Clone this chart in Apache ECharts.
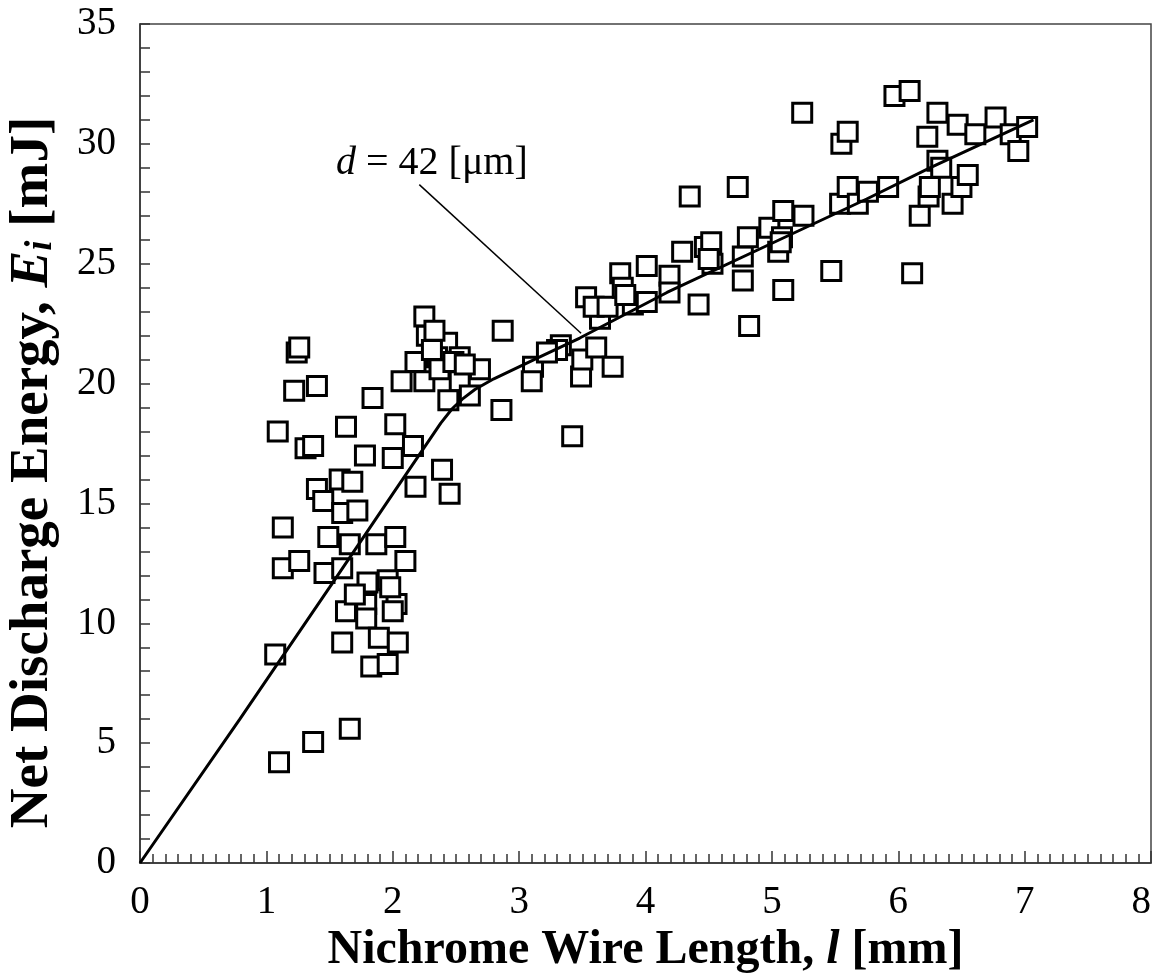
<!DOCTYPE html>
<html>
<head>
<meta charset="utf-8">
<script src="https://cdn.jsdelivr.net/npm/echarts@6/dist/echarts.min.js"></script>
<style>
  html, body { margin: 0; padding: 0; background: #fff; }
  #main { width: 1157px; height: 979px; }
</style>
</head>
<body>
<div id="main"></div>
<script>
// measured points: wire length [mm], net discharge energy [mJ]
const wireLen = [
  1.10, 1.37, 1.66, 1.07, 1.09, 1.13, 1.13, 1.26, 1.24, 1.26, 1.22, 1.40, 1.31, 1.37, 1.40, 1.45, 1.49, 1.46, 1.60, 1.63,
  1.58, 1.68, 1.60, 1.72, 1.66, 1.63, 1.60, 1.84, 1.78, 1.87, 1.80, 1.79, 1.79, 1.83, 1.89, 1.96, 1.96, 2.02, 2.00, 2.02,
  2.03, 2.00, 2.04, 2.10, 2.16, 2.18, 2.07, 1.70, 1.98,
  2.25, 2.27, 2.43, 2.35, 2.18, 2.53, 2.69, 2.25, 2.53, 2.44, 2.61, 2.87, 2.86, 2.39, 2.45, 2.37, 2.31, 2.33, 2.48, 2.57,
  3.11, 3.10, 3.33, 3.30, 3.42, 3.49, 3.50, 3.61, 3.74, 3.64, 3.53, 3.59, 3.70, 3.80, 3.82, 3.90, 4.01, 4.01, 4.19, 4.19,
  4.29, 4.35, 4.42, 4.47, 4.52, 4.53, 4.73, 4.77, 4.77, 4.81, 4.82, 4.98, 5.05, 5.08, 5.09, 5.09, 5.25, 5.24, 5.47, 5.54,
  5.55, 5.60, 5.60, 5.68, 5.76, 5.92, 5.97, 6.09, 6.11, 6.17, 6.24, 6.25, 6.23, 6.31, 6.31, 6.43, 6.47, 6.50, 6.55, 6.61,
  6.77, 6.89, 6.95, 7.02, 3.22, 3.84, 5.07, 4.50, 6.34
]
const energy = [
  4.2, 5.05, 5.6, 8.7, 18.0, 14.0, 12.3, 12.6, 21.3, 21.5, 19.7, 19.9, 17.3, 17.4, 15.6, 15.1, 13.6, 12.1, 12.3, 18.2,
  16.0, 15.9, 14.6, 14.7, 13.3, 10.5, 9.2, 19.4, 17.0, 13.3, 11.7, 10.8, 10.2, 8.2, 9.4, 8.3, 11.8, 18.3, 16.9, 13.6,
  10.8, 10.5, 9.2, 12.6, 17.4, 15.7, 20.1, 11.2, 11.5,
  22.8, 22.0, 21.7, 21.1, 20.9, 21.1, 20.6, 20.1, 20.1, 19.3, 19.5, 22.2, 18.9, 16.4, 15.4, 20.6, 21.4, 22.2, 20.9, 20.8,
  20.7, 20.1, 21.6, 21.4, 17.8, 20.3, 21.0, 21.5, 20.7, 22.7, 23.6, 23.2, 23.2, 24.6, 24.0, 23.3, 24.9, 23.4, 24.5, 23.8,
  25.5, 27.8, 23.3, 25.7, 25.9, 25.0, 28.2, 25.3, 24.3, 26.1, 22.4, 26.5, 25.5, 26.1, 27.2, 23.9, 27.0, 31.3, 24.7, 27.5,
  30.0, 30.5, 28.2, 27.5, 28.0, 28.2, 32.0, 32.2, 24.6, 27.0, 27.8, 28.2, 30.3, 31.3, 29.3, 27.5, 30.8, 28.2, 28.7, 30.4,
  31.1, 30.4, 29.7, 30.7, 21.3, 23.7, 25.9, 25.2, 29.0
]

// fitted curve for d = 42 um
const fitLen = [0, 0.79, 1.5, 2.0, 2.38, 2.47, 2.55, 2.65, 2.8, 3.16, 3.48, 4.17, 5.06, 5.75, 6.25, 7.07]
const fitEnergy = [0, 6.0, 11.5, 15.4, 18.35, 18.95, 19.35, 19.75, 20.2, 21.1, 21.9, 23.8, 26.0, 27.7, 29.0, 31.0]

// label and its leader line
const noteAt = [2.31, 29.2]
const leaderLen = [2.21, 3.49]
const leaderEnergy = [28.3, 22.1]

const xTicks = [0, 1, 2, 3, 4, 5, 6, 7, 8]
const yTicks = [0, 5, 10, 15, 20, 25, 30, 35]

const serif = '"Liberation Serif", "Times New Roman", serif'
const chart = echarts.init(document.getElementById('main'))

chart.setOption({
  backgroundColor: '#fff',
  animation: false,
  grid: {
    left: 140, right: 6, top: 24, bottom: 116,
    outerBoundsMode: 'none',
    show: true, borderColor: '#444', borderWidth: 1.5
  },
  xAxis: {
    type: 'value',
    min: xTicks[0], max: xTicks[xTicks.length - 1], interval: 1,
    name: 'Nichrome Wire Length, {i|l} [mm]',
    nameLocation: 'middle',
    nameGap: 62,
    nameTextStyle: {
      fontFamily: serif, fontSize: 48, fontWeight: 'bold', color: '#000',
      rich: {
        i: { fontFamily: serif, fontSize: 48, fontWeight: 'bold', fontStyle: 'italic', color: '#000' }
      }
    },
    axisLine: { lineStyle: { color: '#333', width: 1.5 } },
    axisTick: { inside: true, length: 12, lineStyle: { color: '#333', width: 1.5 } },
    minorTick: { show: true, splitNumber: 10, length: 9, lineStyle: { color: '#333', width: 1.5 } },
    axisLabel: { fontFamily: serif, fontSize: 39, color: '#000', margin: 20, alignMaxLabel: 'right' },
    splitLine: { show: false }
  },
  yAxis: {
    type: 'value',
    min: yTicks[0], max: yTicks[yTicks.length - 1], interval: 5,
    name: 'Net Discharge Energy, {i|E}{s|i} [mJ]',
    nameLocation: 'middle',
    nameGap: 80,
    nameTextStyle: {
      fontFamily: serif, fontSize: 55, fontWeight: 'bold', color: '#000',
      padding: [0, 58, 0, 0],
      rich: {
        i: { fontFamily: serif, fontSize: 55, fontWeight: 'bold', fontStyle: 'italic', color: '#000' },
        s: { fontFamily: serif, fontSize: 37, fontWeight: 'bold', fontStyle: 'italic', color: '#000', verticalAlign: 'bottom', padding: [18, 0, 0, 0] }
      }
    },
    axisLine: { lineStyle: { color: '#333', width: 1.5 } },
    axisTick: { inside: true, length: 10, lineStyle: { color: '#333', width: 1.5 } },
    minorTick: { show: true, splitNumber: 5, length: 10, lineStyle: { color: '#333', width: 1.5 } },
    axisLabel: { fontFamily: serif, fontSize: 39, color: '#000', margin: 24 },
    splitLine: { show: false }
  },
  series: [
    {
      type: 'scatter',
      symbol: 'rect',
      symbolSize: 19,
      itemStyle: { color: '#fff', borderColor: '#000', borderWidth: 3, opacity: 1 },
      data: wireLen.map((x, i) => [x, energy[i]]),
      z: 2
    },
    {
      type: 'line',
      showSymbol: false,
      lineStyle: { color: '#000', width: 3 },
      data: fitLen.map((x, i) => [x, fitEnergy[i]]),
      z: 3
    },
    {
      type: 'line',
      showSymbol: false,
      lineStyle: { color: '#000', width: 1.5 },
      data: leaderLen.map((x, i) => [x, leaderEnergy[i]]),
      z: 3
    },
    {
      type: 'scatter',
      symbolSize: 0,
      itemStyle: { opacity: 1 },
      data: [noteAt],
      label: {
        show: true,
        position: 'inside',
        formatter: '{d|d} = 42 [μm]',
        fontFamily: serif, fontSize: 40, color: '#000',
        rich: {
          d: { fontFamily: serif, fontSize: 40, fontStyle: 'italic', color: '#000' }
        }
      },
      z: 4
    }
  ]
})
</script>
</body>
</html>
